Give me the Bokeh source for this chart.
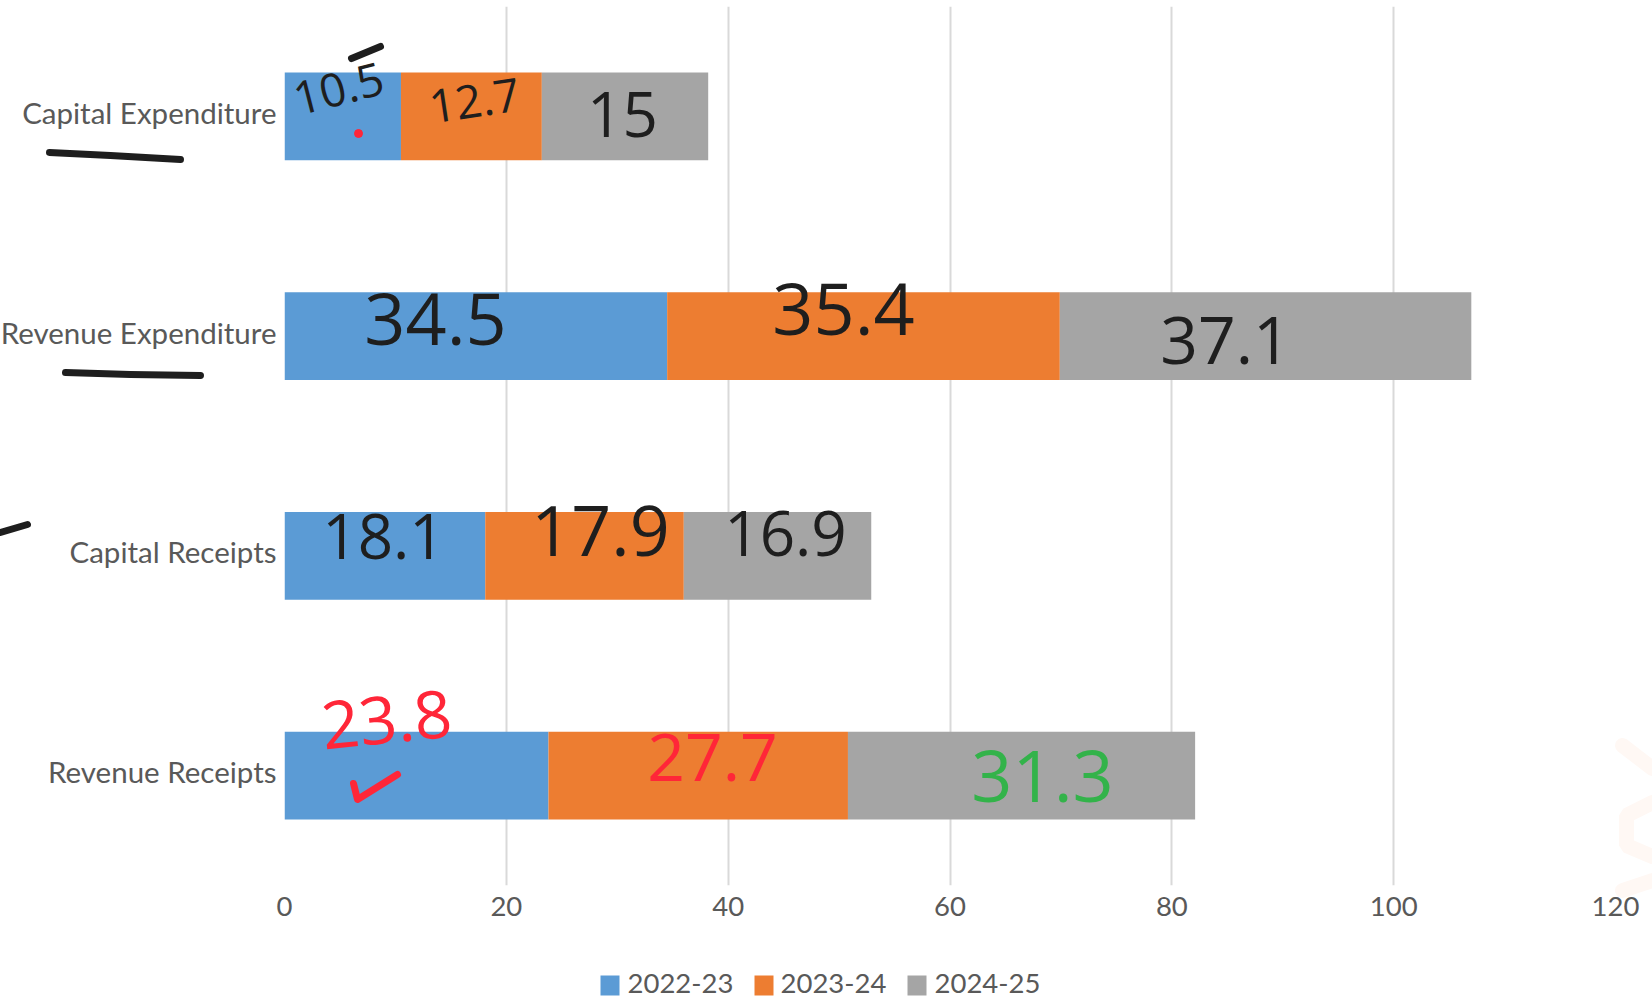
from bokeh.plotting import figure
from bokeh.embed import file_html
from bokeh.resources import INLINE
from bokeh.core.properties import value
from bokeh.models import ColumnDataSource, Range1d, FixedTicker

categories = ["Revenue Receipts", "Capital Receipts", "Revenue Expenditure", "Capital Expenditure"]
series_names = ["2022-23", "2023-24", "2024-25"]
v2022 = [23.8, 18.1, 34.5, 10.5]
v2023 = [27.0, 17.9, 35.4, 12.7]
v2024 = [31.3, 16.9, 37.1, 15.0]
bar_colors = ["#5b9bd5", "#ed7d31", "#a5a5a5"]
x_ticks = [0, 20, 40, 60, 80, 100, 120]

# legend placement in page pixels
legend_swatch_left = [600, 754, 907]
legend_text_left = [627, 780, 934]

# handwritten notes (text, x centre, y centre in page pixels, size, angle, colour)
ink_text = ["10.5", "12.7", "15", "34.5", "35.4", "37.1", "18.1", "17.9", "16.9", "23.8", "27.7", "31.3"]
ink_x = [338, 474, 622, 435, 843, 1225, 383, 600, 785, 386, 712, 1042]
ink_y = [88, 100, 114, 318, 308, 340, 536, 530, 533, 719, 757, 775]
ink_size = ["46px", "46px", "62px", "72px", "72px", "66px", "62px", "70px", "62px", "66px", "66px", "72px"]
ink_angle = [0.25, 0.15, 0, 0, 0, 0, 0, 0, 0, 0.1, 0, 0]
black, red, green = "#1e1e1e", "#ff2638", "#33b34a"
ink_color = [black] * 9 + [red, red, green]

# freehand strokes in page pixels
stroke_x = [[49, 110, 180], [65, 130, 200], [0, 27], [351, 380], [353, 357, 397]]
stroke_y = [[152, 155, 159], [372, 374, 375], [532, 524], [58, 46], [783, 799, 774]]
stroke_color = [black, black, black, black, red]
dot_x = [358, 263]
dot_y = [133, 832]
dot_size = [8, 7]
smudge_x = [[1622, 1652], [1652, 1626, 1626, 1652], [1622, 1652]]
smudge_y = [[745, 768], [802, 815, 845, 856], [890, 880]]

positions = list(range(len(categories)))
left = [0.0] * 4
sources = []
for vals in (v2022, v2023, v2024):
    right = [a + b for a, b in zip(left, vals)]
    sources.append(ColumnDataSource(dict(pos=positions, left=left, right=right)))
    left = right

p = figure(width=1652, height=1001, output_backend="svg", toolbar_location=None,
           y_range=Range1d(-0.5, 3.5), x_range=Range1d(0, 120),
           min_border_left=284, min_border_right=37, min_border_top=6, min_border_bottom=116,
           outline_line_color=None, background_fill_color=None, border_fill_color=None)
p.extra_x_ranges = {"px": Range1d(284, 1615)}
p.extra_y_ranges = {"px": Range1d(885, 6)}
px = dict(x_range_name="px", y_range_name="px", level="annotation")

p.multi_line(smudge_x, smudge_y, line_color="#fff8f4", line_width=15, line_cap="round", **px)

for src, col in zip(sources, bar_colors):
    p.hbar(y="pos", left="left", right="right", height=0.4, source=src,
           fill_color=col, line_color=None)

p.xaxis.ticker = FixedTicker(ticks=x_ticks)
p.yaxis.visible = False
ax = p.xaxis[0]
ax.axis_line_color = None
ax.major_tick_line_color = None
ax.minor_tick_line_color = None
ax.major_tick_out = 0
ax.major_tick_in = 0
ax.major_label_text_font = "Lato"
ax.major_label_text_color = "#595959"
ax.major_label_text_font_size = "27.5px"
ax.major_label_standoff = 11
p.xgrid.grid_line_color = "#d9d9d9"
p.xgrid.grid_line_width = 2
p.ygrid.grid_line_color = None

# category labels, right aligned against the plot, on the bars' own y scale
p.text(x=[276] * 4, y=positions, text=categories, y_offset=[-4] * 4, text_font=value("Lato"),
       text_font_size="29.5px", text_color="#595959", text_align="right", text_baseline="middle",
       x_range_name="px", level="annotation")

p.multi_line(stroke_x, stroke_y, line_color=stroke_color, line_width=7, line_cap="round",
             line_join="round", **px)
p.scatter(dot_x, dot_y, size=dot_size, color=red, **px)
ink = ColumnDataSource(dict(t=ink_text, x=ink_x, y=ink_y, s=ink_size, a=ink_angle, c=ink_color))
p.text(x="x", y="y", text="t", angle="a", text_font_size="s", text_color="c", source=ink,
       text_font=value("Open Sans"), text_align="center", text_baseline="middle", **px)

p.quad(left=legend_swatch_left, right=[v + 19 for v in legend_swatch_left],
       bottom=[995] * 3, top=[975] * 3, fill_color=bar_colors, line_color=None, **px)
p.text(x=legend_text_left, y=[983] * 3, text=series_names, text_font=value("Lato"),
       text_font_size="27.5px", text_color="#595959", text_align="left", text_baseline="middle", **px)

open("out.html", "w").write(file_html(p, INLINE))
